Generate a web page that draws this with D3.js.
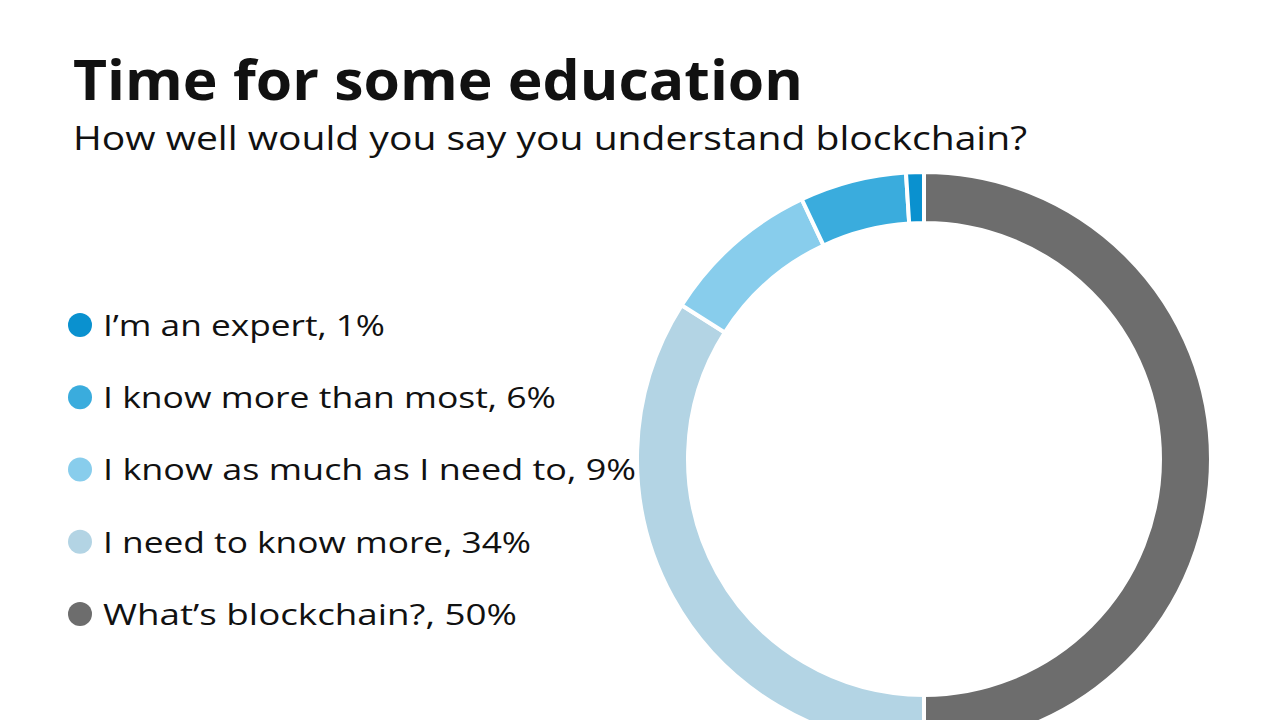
<!DOCTYPE html><html><head><meta charset="utf-8"><script src="https://cdn.jsdelivr.net/npm/d3@7"></script>
<style>body{margin:0;background:#fff}</style></head><body><svg id="c" width="1280" height="720"></svg>
<script>
const categories=["I’m an expert","I know more than most","I know as much as I need to","I need to know more","What’s blockchain?"];
const values=[1,6,9,34,50];
const colors=["#0a91cf","#3aacdd","#88cdec","#b3d4e4","#6d6d6d"];
const legendWidths=[282,453,533,428,414];
const svg=d3.select("#c");
const F="'Open Sans', sans-serif";
svg.append("text").attr("x",73).attr("y",100).attr("font-family",F).attr("font-weight",700).attr("font-size",56).attr("fill","#111")
 .attr("textLength",730).attr("lengthAdjust","spacingAndGlyphs").text("Time for some education");
svg.append("text").attr("x",73).attr("y",150).attr("font-family",F).attr("font-size",33).attr("fill","#111")
 .attr("textLength",954).attr("lengthAdjust","spacingAndGlyphs").text("How well would you say you understand blockchain?");
const y=d3.scalePoint().domain(categories).range([325,614]);
const lg=svg.append("g");
categories.forEach((c,i)=>{
  lg.append("circle").attr("cx",80).attr("cy",y(c)).attr("r",12).attr("fill",colors[i]);
  lg.append("text").attr("x",103).attr("y",y(c)).attr("dy","0.36em").attr("font-family",F).attr("font-size",30).attr("fill","#111")
   .attr("textLength",legendWidths[i]).attr("lengthAdjust","spacingAndGlyphs").text(c+", "+values[i]+"%");
});
const data=categories.map((c,i)=>({c,v:values[i],col:colors[i]})).reverse();
const pie=d3.pie().value(d=>d.v).sort(null);
const arc=d3.arc().innerRadius(236).outerRadius(287);
svg.append("g").attr("transform","translate(924,459)").selectAll("path").data(pie(data)).join("path")
 .attr("d",arc).attr("fill",d=>d.data.col).attr("stroke","#fff").attr("stroke-width",4);
</script></body></html>
